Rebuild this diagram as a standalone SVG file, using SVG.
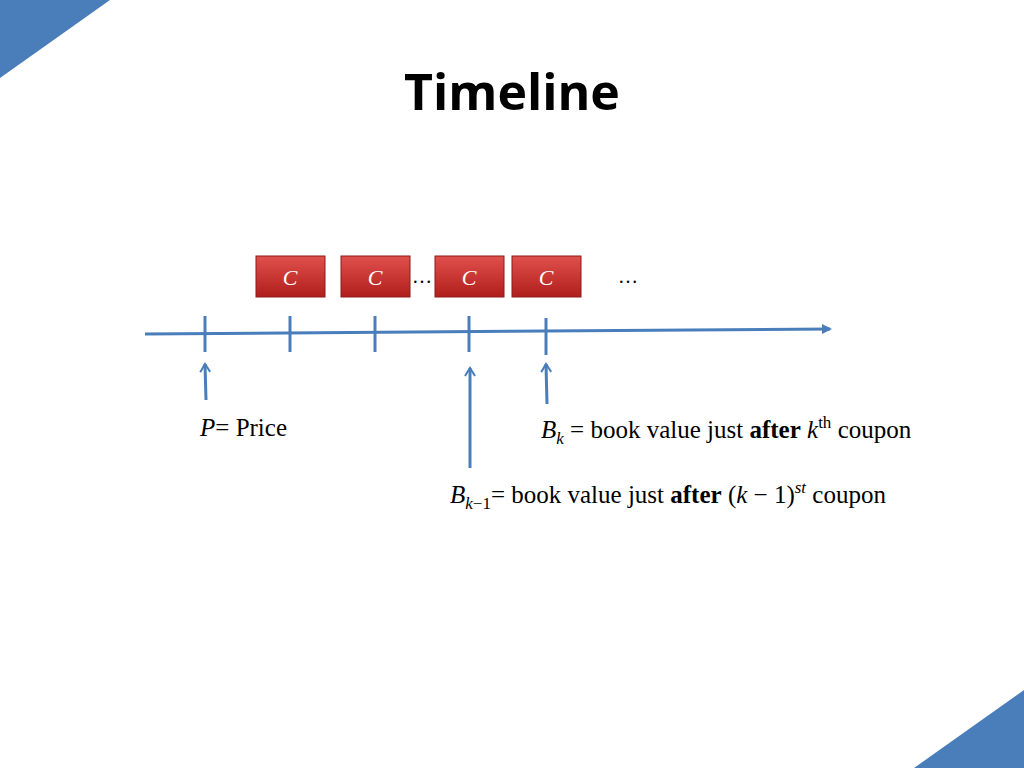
<svg xmlns="http://www.w3.org/2000/svg" width="1024" height="768" viewBox="0 0 1024 768">
<defs>
<linearGradient id="rg" x1="0" y1="0" x2="0" y2="1"><stop offset="0" stop-color="#e0504c"/><stop offset="1" stop-color="#b01e1c"/></linearGradient>
<marker id="ah" markerWidth="10" markerHeight="10" refX="8" refY="5" orient="auto" markerUnits="userSpaceOnUse"><path d="M0,0 L10,5 L0,10 z" fill="#4a7ebb"/></marker>
<marker id="oa" markerWidth="12" markerHeight="12" refX="10" refY="6" orient="auto" markerUnits="userSpaceOnUse"><path d="M2,1 L10,6 L2,11" fill="none" stroke="#4a7ebb" stroke-width="2"/></marker>
</defs>
<style>
.box{fill:url(#rg);stroke:#8c1a18;stroke-width:1}
.c{font-family:"Liberation Serif",serif;font-style:italic;font-size:22px;fill:#fff;text-anchor:middle}
.t{font-family:"Liberation Serif",serif;font-size:25px;fill:#000}
.ln{stroke:#4a7ebb;stroke-width:3;fill:none}
</style>
<rect width="1024" height="768" fill="#fff"/>
<polygon points="0,0 110,0 0,78" fill="#4a7ebb"/>
<polygon points="1024,768 914,768 1024,690" fill="#4a7ebb"/>
<text x="512" y="110" font-family="Open Sans, sans-serif" font-weight="bold" font-size="50" text-anchor="middle">Timeline</text>
<g id="c1"><rect class="box" x="256" y="256" width="69" height="41"/><text class="c" x="290" y="285">C</text></g>
<g id="c2"><rect class="box" x="341" y="256" width="69" height="41"/><text class="c" x="375" y="285">C</text></g>
<g id="c3"><rect class="box" x="435" y="256" width="69" height="41"/><text class="c" x="469" y="285">C</text></g>
<g id="c4"><rect class="box" x="512" y="256" width="69" height="41"/><text class="c" x="546" y="285">C</text></g>
<text x="422" y="283" font-family="Liberation Serif,serif" font-size="20" text-anchor="middle">…</text>
<text x="628" y="283" font-family="Liberation Serif,serif" font-size="20" text-anchor="middle">…</text>
<g id="connectors">
<line class="ln" x1="145" y1="334" x2="830" y2="329" marker-end="url(#ah)"/>
<line class="ln" x1="205" y1="316" x2="205" y2="352"/>
<line class="ln" x1="290" y1="316" x2="290" y2="352"/>
<line class="ln" x1="375" y1="316" x2="375" y2="352"/>
<line class="ln" x1="469" y1="316" x2="469" y2="352"/>
<line class="ln" x1="546" y1="318" x2="546" y2="355"/>
<line class="ln" stroke-width="2" x1="206" y1="400" x2="205" y2="364" marker-end="url(#oa)"/>
<line class="ln" stroke-width="2" x1="470" y1="468" x2="470" y2="368" marker-end="url(#oa)"/>
<line class="ln" stroke-width="2" x1="547" y1="404" x2="546" y2="364" marker-end="url(#oa)"/>
</g>
<text class="t" x="200" y="436"><tspan font-style="italic">P</tspan>= Price</text>
<text class="t" x="541" y="438"><tspan font-style="italic">B</tspan><tspan font-style="italic" font-size="17" dy="6">k</tspan><tspan dy="-6"> = book value just </tspan><tspan font-weight="bold">after</tspan> <tspan font-style="italic">k</tspan><tspan font-size="17" dy="-10">th</tspan><tspan dy="10"> coupon</tspan></text>
<text class="t" x="450" y="503"><tspan font-style="italic">B</tspan><tspan font-size="17" dy="6"><tspan font-style="italic">k</tspan>−1</tspan><tspan dy="-6">= book value just </tspan><tspan font-weight="bold">after</tspan> (<tspan font-style="italic">k</tspan> − 1)<tspan font-style="italic" font-size="17" dy="-10">st</tspan><tspan dy="10"> coupon</tspan></text>
</svg>
